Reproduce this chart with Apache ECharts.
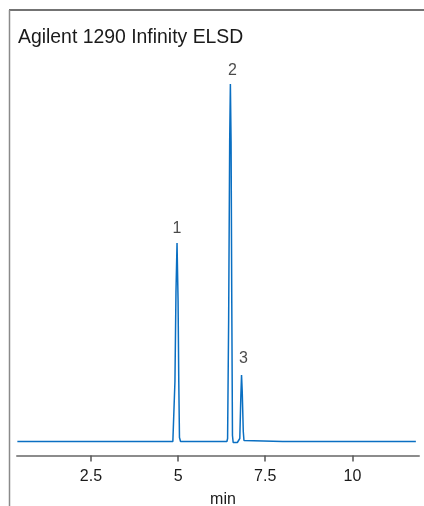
<!DOCTYPE html>
<html>
<head>
<meta charset="utf-8">
<script src="https://cdn.jsdelivr.net/npm/echarts@6/dist/echarts.min.js"></script>
<style>
html,body{margin:0;padding:0;background:#fff;}
#chart{width:424px;height:506px;}
</style>
</head>
<body>
<div id="chart"></div>
<script>
// Chromatogram trace (time in min, detector signal in arbitrary units)
var times  = [0.39, 2.0, 4.0, 4.85, 4.88, 4.91, 4.94, 4.97, 5.00, 5.02, 5.04, 5.07, 5.5, 6.0, 6.40, 6.42, 6.45, 6.48, 6.50, 6.52, 6.54, 6.56, 6.58, 6.70, 6.75, 6.77, 6.80, 6.82, 6.84, 6.87, 6.89, 6.93, 8.0, 10.0, 11.82];
var signal = [0,    0,   0,   0,    2,    60,   150,  198.5,140,  60,   4,    0,    0,   0,   0,    3,    120,  300,  357.5,300,  140,  6,    -1,   -1,   0,    3,    45,   66.5, 50,   10,   1,    0,    0,   0,    0];
// Peak annotations
var peakNames  = ['1', '2', '3'];
var peakTimes  = [4.97, 6.50, 6.82];
var peakHeights = [198.5, 357.5, 66.5];
// Axis
var xTicks = [2.5, 5, 7.5, 10];
var titleText = 'Agilent 1290 Infinity ELSD';
var xName = 'min';

var FONT = "'Liberation Sans', Arial, sans-serif";
var chart = echarts.init(document.getElementById('chart'), null, {renderer: 'canvas'});

var lineData = times.map(function (t, i) { return [t, signal[i]]; });
var peakOffsets = [[0, 2], [2, 3], [2, 0]];
var peakData = peakTimes.map(function (t, i) {
  return {name: peakNames[i], value: [t, peakHeights[i]],
    label: {offset: peakOffsets[i]}};
});

chart.setOption({
  animation: false,
  backgroundColor: '#fff',
  title: {
    text: titleText, left: 18, top: 28, padding: 0,
    textStyle: {fontFamily: FONT, fontSize: 19.4, fontWeight: 'normal', color: '#1a1a1a'}
  },
  graphic: [
    {type: 'line', shape: {x1: 9, y1: 10, x2: 424, y2: 10}, style: {stroke: '#444', lineWidth: 1.5}},
    {type: 'line', shape: {x1: 9.5, y1: 10, x2: 9.5, y2: 506}, style: {stroke: '#8a8a8a', lineWidth: 1.5}}
  ],
  grid: {left: 17, right: 5, top: 81.5, bottom: 50.5, outerBoundsMode: 'none', containLabel: false},
  xAxis: {
    type: 'value', min: 0.38, max: 11.91,
    name: xName, nameLocation: 'middle', nameGap: 36,
    nameTextStyle: {fontFamily: FONT, fontSize: 16, color: '#1a1a1a', padding: [0, 0, 0, 10]},
    axisLine: {onZero: false, lineStyle: {color: '#8c8c8c', width: 2}},
    axisTick: {show: true, length: 6, customValues: xTicks, lineStyle: {color: '#555', width: 1.5}},
    axisLabel: {customValues: xTicks, margin: 13, fontFamily: FONT, fontSize: 16, color: '#1a1a1a',
      formatter: function (v) { return String(v); }},
    splitLine: {show: false}
  },
  yAxis: {
    type: 'value', min: -14, max: 360, show: false, splitLine: {show: false}
  },
  series: [
    {
      type: 'line', data: lineData, showSymbol: false, symbol: 'none',
      lineStyle: {color: '#0a6fc2', width: 1.5}, silent: true
    },
    {
      type: 'scatter', data: peakData, symbolSize: 0, silent: true,
      label: {show: true, position: 'top', distance: 8, formatter: '{b}',
        fontFamily: FONT, fontSize: 16, color: '#1a1a1a'}
    }
  ]
});
</script>
</body>
</html>
